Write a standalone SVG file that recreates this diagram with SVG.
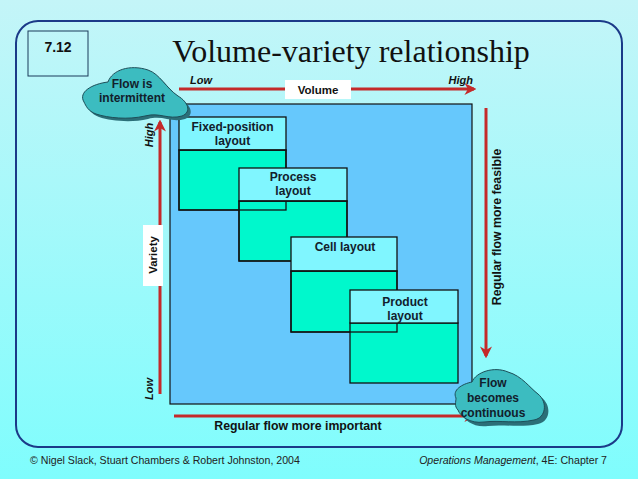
<svg xmlns="http://www.w3.org/2000/svg" width="638" height="479" viewBox="0 0 638 479">
<defs>
<linearGradient id="bg" x1="0" y1="0" x2="0" y2="1">
<stop offset="0" stop-color="#c4f5f8"/>
<stop offset="1" stop-color="#7ffdfd"/>
</linearGradient>
<marker id="ah" viewBox="0 0 10 10" refX="8" refY="5" markerWidth="4" markerHeight="4" orient="auto" markerUnits="strokeWidth">
<path d="M0,0 L10,5 L0,10 L3,5 Z" fill="#c42a2a"/>
</marker>
<style>
.t{font-family:"Liberation Sans",Arial,sans-serif;font-weight:bold;font-size:12px;fill:#12202c;text-anchor:middle}
.ax{font-family:"Liberation Sans",Arial,sans-serif;font-weight:bold;font-size:12.3px;fill:#111}
.lh{font-family:"Liberation Sans",Arial,sans-serif;font-weight:bold;font-style:italic;font-size:11px;fill:#111}
.arr{stroke:#c42a2a;stroke-width:3;fill:none;marker-end:url(#ah)}
.hd{fill:#80f6ff;stroke:#111;stroke-width:1.3}
.bd{fill:#00f8cc;stroke:#111;stroke-width:1.3}
.ol{fill:none;stroke:#111;stroke-width:1.3}
.cloud{fill:#3cbcc0;stroke:#1d4e58;stroke-width:1}
.shadow{fill:#2b6f78}
.ft{font-family:"Liberation Sans",Arial,sans-serif;font-size:10.6px;fill:#222}
</style>
</defs>
<rect x="0" y="0" width="638" height="479" fill="url(#bg)"/>
<rect x="16" y="21" width="606" height="426" rx="22" fill="none" stroke="#1b3a88" stroke-width="2"/>
<g id="label-712">
<rect x="28" y="31" width="60" height="45" fill="none" stroke="#1b3a5a" stroke-width="1"/>
<text x="58" y="52" style="font-family:'Liberation Sans',Arial,sans-serif;font-weight:bold;font-size:14px;fill:#111;text-anchor:middle">7.12</text>
</g>
<text x="351" y="62" style="font-family:'Liberation Serif','Times New Roman',serif;font-size:32px;fill:#111;text-anchor:middle">Volume-variety relationship</text>
<g id="main-area">
<rect x="170" y="104" width="302" height="300" fill="#66c8fc" stroke="#111" stroke-width="1.2"/>
</g>
<g id="fixed-position">
<rect class="bd" x="179" y="150" width="107" height="60"/>
<rect class="hd" x="179" y="117" width="107" height="33"/>
<text class="t" x="232.5" y="131">Fixed-position</text>
<text class="t" x="232.5" y="145">layout</text>
</g>
<g id="process">
<rect class="bd" x="239" y="201" width="108" height="60"/>
<rect class="ol" x="179" y="150" width="107" height="60"/>
<rect class="hd" x="239" y="168" width="108" height="33"/>
<text class="t" x="293" y="181">Process</text>
<text class="t" x="293" y="195">layout</text>
</g>
<g id="cell">
<rect class="bd" x="291" y="271" width="106" height="61"/>
<rect class="ol" x="239" y="201" width="108" height="60"/>
<rect class="hd" x="291" y="237" width="106" height="34"/>
<text class="t" x="345" y="251">Cell layout</text>
</g>
<g id="product">
<rect class="bd" x="350" y="323" width="108" height="60"/>
<rect class="ol" x="291" y="271" width="106" height="61"/>
<rect class="hd" x="350" y="290" width="108" height="33"/>
<text class="t" x="405" y="306">Product</text>
<text class="t" x="405" y="320">layout</text>
</g>
<g id="connectors">
<line class="arr" x1="179" y1="89" x2="474" y2="89"/>
<line class="arr" x1="160" y1="394" x2="160" y2="122"/>
<line class="arr" x1="486" y1="108" x2="486" y2="356"/>
<line class="arr" x1="174" y1="416" x2="474" y2="416"/>
</g>
<g id="volume-labels">
<rect x="285" y="80" width="66" height="19" fill="#fff"/>
<text class="ax" x="318" y="94" text-anchor="middle" style="font-size:11.5px">Volume</text>
<text class="lh" x="190" y="84">Low</text>
<text class="lh" x="473" y="84" text-anchor="end">High</text>
</g>
<g id="variety-labels">
<rect x="143" y="225" width="20" height="61" fill="#fff"/>
<text class="ax" text-anchor="middle" transform="translate(157,255) rotate(-90)" style="font-size:11.5px">Variety</text>
<text class="lh" text-anchor="middle" transform="translate(153,135) rotate(-90)">High</text>
<text class="lh" text-anchor="middle" transform="translate(153,389) rotate(-90)">Low</text>
</g>
<text class="ax" text-anchor="middle" transform="translate(501,227) rotate(-90)">Regular flow more feasible</text>
<text class="ax" x="298" y="430" text-anchor="middle">Regular flow more important</text>
<g id="cloud-intermittent">
<path class="shadow" transform="translate(3,3)" d="M84,102 C78,92 92,84 108,82 C112,70 130,64 148,70 C160,74 166,88 178,96 C188,102 192,112 182,116 C168,120 160,112 145,116 C128,120 108,118 96,114 C88,111 86,106 84,102 Z"/>
<path class="cloud" d="M84,102 C78,92 92,84 108,82 C112,70 130,64 148,70 C160,74 166,88 178,96 C188,102 192,112 182,116 C168,120 160,112 145,116 C128,120 108,118 96,114 C88,111 86,106 84,102 Z"/>
<text class="t" x="132" y="88">Flow is</text>
<text class="t" x="132" y="102">intermittent</text>
</g>
<g id="cloud-continuous">
<path class="shadow" transform="translate(4,4)" d="M456,398 C452,390 462,384 472,382 C476,372 494,366 508,372 C522,376 530,388 538,394 C548,402 546,418 534,420 C516,424 500,420 484,422 C470,424 460,416 458,410 C454,406 456,402 456,398 Z"/>
<path class="cloud" d="M456,398 C452,390 462,384 472,382 C476,372 494,366 508,372 C522,376 530,388 538,394 C548,402 546,418 534,420 C516,424 500,420 484,422 C470,424 460,416 458,410 C454,406 456,402 456,398 Z"/>
<text class="t" x="493" y="387">Flow</text>
<text class="t" x="493" y="402">becomes</text>
<text class="t" x="493" y="417">continuous</text>
</g>
<text class="ft" x="30" y="464">© Nigel Slack, Stuart Chambers &amp; Robert Johnston, 2004</text>
<text class="ft" x="607" y="464" text-anchor="end"><tspan font-style="italic">Operations Management</tspan>, 4E: Chapter 7</text>
</svg>
